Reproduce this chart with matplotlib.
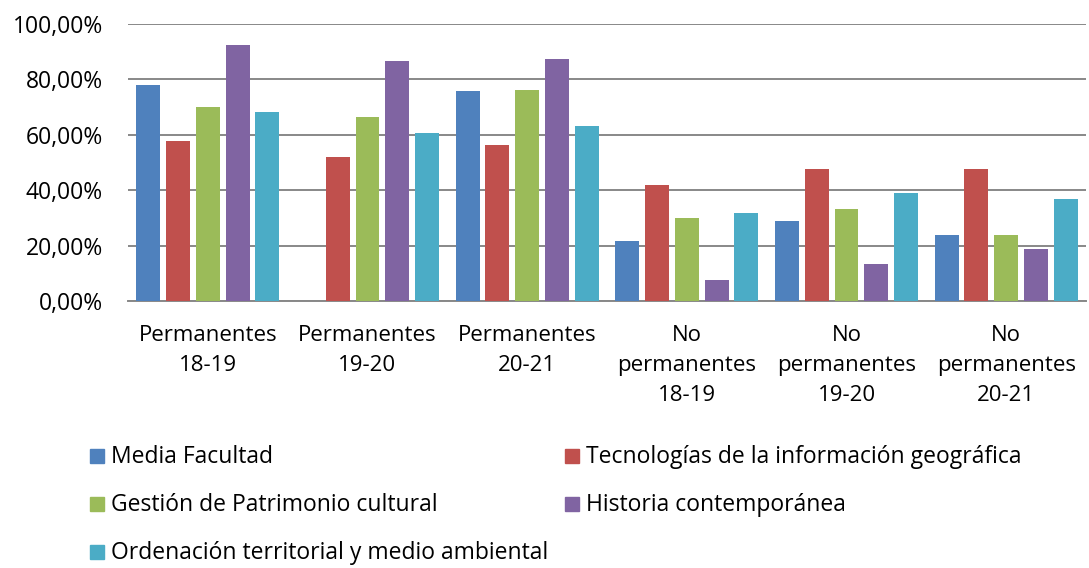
import numpy as np
import matplotlib.pyplot as plt
from matplotlib.patches import Rectangle
from matplotlib.ticker import FuncFormatter

categories = ["Permanentes\n18-19", "Permanentes\n19-20", "Permanentes\n20-21",
              "No\npermanentes\n18-19", "No\npermanentes\n19-20", "No\npermanentes\n20-21"]
series = ["Media Facultad",
          "Tecnologías de la información geográfica",
          "Gestión de Patrimonio cultural",
          "Historia contemporánea",
          "Ordenación territorial y medio ambiental"]
media = [78.1, 0.0, 75.9, 21.8, 28.8, 23.8]
tecnologias = [57.9, 52.1, 56.4, 42.0, 47.7, 47.8]
patrimonio = [69.9, 66.5, 76.3, 30.1, 33.2, 23.7]
historia = [92.4, 86.5, 87.5, 7.6, 13.4, 18.7]
ordenacion = [68.1, 60.8, 63.1, 31.6, 39.1, 36.8]
colors = ["#4f81bd", "#c0504d", "#9bbb59", "#8064a2", "#4bacc6"]

plt.rcParams['font.family'] = ['Open Sans', 'DejaVu Sans']
FS = 16

W, H = 1089, 568
fig = plt.figure(figsize=(W / 100, H / 100), dpi=100)
ax = fig.add_axes([128 / W, 1 - 301 / H, 958 / W, 277 / H])

x = np.arange(len(categories))
step = 0.186
width = 0.15
for i, (vals, col) in enumerate(zip([media, tecnologias, patrimonio, historia, ordenacion], colors)):
    ax.bar(x + (i - 2) * step, vals, width, color=col, zorder=3)

ax.set_xlim(-0.5, len(categories) - 0.5)
ax.set_ylim(0, 100)
ax.set_yticks(np.arange(0, 101, 20))
ax.yaxis.set_major_formatter(FuncFormatter(lambda v, p: f"{v:.2f}%".replace(".", ",")))
ax.grid(axis="y", color="#888888", linewidth=1.4, zorder=0)
for s in ["top", "right", "left"]:
    ax.spines[s].set_visible(False)
ax.spines["bottom"].set_color("#888888")
ax.spines["bottom"].set_linewidth(1.4)
ax.set_xticks(x)
ax.set_xticklabels(categories, fontsize=FS, linespacing=1.58)
ax.tick_params(axis="x", length=0, pad=17)
ax.tick_params(axis="y", length=0, pad=18, labelsize=16.5)

# legend, laid out by hand in pixel positions (two columns, row-major order)
legend_pos = [(90, 456), (565, 456), (90, 504), (565, 504), (90, 552)]
sq = 14
for (px, py), name, col in zip(legend_pos, series, colors):
    fig.patches.append(Rectangle((px / W, 1 - (py + sq / 2) / H), sq / W, sq / H,
                                 transform=fig.transFigure, color=col))
    fig.text((px + sq + 7) / W, 1 - (py + 1) / H, name, fontsize=16.5, va="center")

fig.savefig("out.png", dpi=100)
